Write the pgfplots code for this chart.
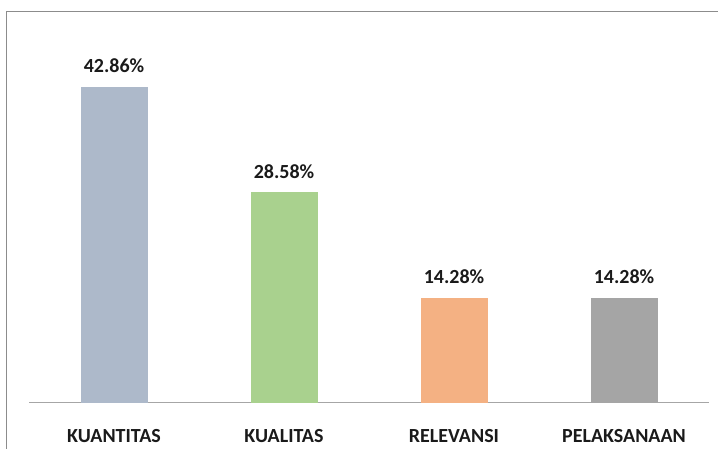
\documentclass[border=0pt]{standalone}
\usepackage{fontspec}
\setmainfont{Carlito}
\usepackage{pgfplots}
\pgfplotsset{compat=1.18}
\definecolor{cA}{HTML}{ADB9CA}
\definecolor{cB}{HTML}{A9D18E}
\definecolor{cC}{HTML}{F4B183}
\definecolor{cD}{HTML}{A5A5A5}
\definecolor{axisgray}{HTML}{A6A6A6}
\definecolor{framegray}{HTML}{8C8C8C}
\definecolor{txt}{HTML}{1A1A1A}
\begin{document}
\begin{tikzpicture}[x=1pt,y=1pt]
\useasboundingbox (-29,-46) rectangle (689,403);
\draw[framegray, line width=1pt] (-23,-46) -- (-23,391) -- (689,391);
\begin{axis}[
  at={(0,0)}, anchor=south west,
  scale only axis, width=680pt, height=368.65pt,
  xmin=-0.5, xmax=3.5, ymin=0, ymax=50,
  axis x line*=bottom, axis y line=none,
  axis line style={axisgray, line width=1pt, -},
  xtick={0,1,2,3},
  xticklabels={KUANTITAS,KUALITAS,RELEVANSI,PELAKSANAAN},
  major tick length=0pt,
  xticklabel style={anchor=base, yshift=-40pt, font=\fontsize{20}{24}\selectfont\bfseries, text=txt},
  ybar, bar width=67pt, bar shift=0pt,
  /pgf/number format/assume math mode=true,
  nodes near coords={\pgfmathprintnumber[fixed,fixed zerofill,precision=2,assume math mode=true]{\pgfplotspointmeta}\%},
  nodes near coords style={anchor=base, inner sep=0pt, yshift=14pt, font=\fontsize{20}{24}\selectfont\bfseries, text=txt},
  clip=false,
]
\addplot[fill=cA, draw=none] coordinates {(0,42.86)};
\addplot[fill=cB, draw=none] coordinates {(1,28.58)};
\addplot[fill=cC, draw=none] coordinates {(2,14.28)};
\addplot[fill=cD, draw=none] coordinates {(3,14.28)};
\end{axis}
\end{tikzpicture}
\end{document}
